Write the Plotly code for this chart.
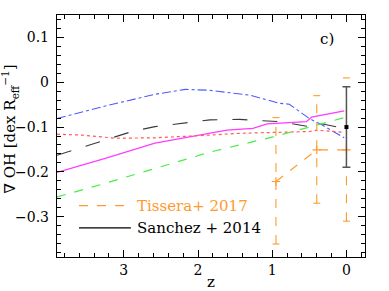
import plotly.graph_objects as go

# ---- data ----
blue_z = [3.9, 3.25, 2.58, 2.17, 1.84, 1.30, 0.90, 0.77, 0.50, 0.32, 0.03]
blue_v = [-0.081, -0.053, -0.027, -0.016, -0.018, -0.029, -0.047, -0.049, -0.081, -0.096, -0.124]

black_z = [3.9, 3.25, 2.89, 2.58, 1.84, 1.44, 0.90, 0.50, 0.36, 0.03]
black_v = [-0.163, -0.129, -0.110, -0.099, -0.084, -0.083, -0.088, -0.099, -0.092, -0.103]

mag_z = [3.9, 3.25, 2.58, 1.84, 1.61, 1.26, 1.07, 0.54, 0.47, 0.03]
mag_v = [-0.201, -0.170, -0.136, -0.114, -0.107, -0.103, -0.093, -0.088, -0.078, -0.064]

red_z = [3.9, 3.56, 3.11, 2.58, 1.84, 1.44, 0.50, 0.40, 0.03]
red_v = [-0.116, -0.118, -0.125, -0.124, -0.118, -0.114, -0.110, -0.107, -0.112]

green_z = [3.9, 3.28, 1.84, 0.99, 0.03]
green_v = [-0.256, -0.227, -0.156, -0.122, -0.079]

tis_z = [0.95, 0.40, 0.0]
tis_v = [-0.2215, -0.151, -0.151]
tis_hi = [-0.079, -0.030, 0.0096]
tis_lo = [-0.361, -0.270, -0.310]

san_z = [0.0]
san_v = [-0.100]
san_err = [0.090]

xticks = [3, 2, 1, 0]
yticks = [0.1, 0, -0.1, -0.2, -0.3]
yticklabels = ["0.1", "0", "\u22120.1", "\u22120.2", "\u22120.3"]

legend_names = ["Tissera+ 2017", "Sanchez + 2014"]

ORANGE = "#ff9a2e"
FONT = "DejaVu Serif"

fig = go.Figure()

fig.add_trace(go.Scatter(x=blue_z, y=blue_v, mode="lines", showlegend=False, hoverinfo="skip",
                         line=dict(color="#4a5cff", width=1.1, dash="dashdot")))
fig.add_trace(go.Scatter(x=black_z, y=black_v, mode="lines", showlegend=False, hoverinfo="skip",
                         line=dict(color="#3a3a3a", width=1.1, dash="longdash")))
fig.add_trace(go.Scatter(x=mag_z, y=mag_v, mode="lines", showlegend=False, hoverinfo="skip",
                         line=dict(color="#ff3cff", width=1.2)))
fig.add_trace(go.Scatter(x=red_z, y=red_v, mode="lines", showlegend=False, hoverinfo="skip",
                         line=dict(color="#ff5a5a", width=1.2, dash="dot")))
fig.add_trace(go.Scatter(x=green_z, y=green_v, mode="lines", showlegend=False, hoverinfo="skip",
                         line=dict(color="#44ee44", width=1.2, dash="dash")))

# Tissera error bars (dashed vertical lines)
ex, ey = [], []
for z, lo, hi in zip(tis_z, tis_lo, tis_hi):
    ex += [z, z, None]
    ey += [lo, hi, None]
fig.add_trace(go.Scatter(x=ex, y=ey, mode="lines", showlegend=False, hoverinfo="skip",
                         line=dict(color=ORANGE, width=1.1, dash="dash")))
fig.add_trace(go.Scatter(x=tis_z + tis_z, y=tis_lo + tis_hi, mode="markers", showlegend=False,
                         hoverinfo="skip",
                         marker=dict(symbol="line-ew", size=5, line=dict(color=ORANGE, width=1.1))))
fig.add_trace(go.Scatter(x=tis_z, y=tis_v, mode="lines+markers", showlegend=False, hoverinfo="skip",
                         line=dict(color=ORANGE, width=1.1, dash="dash"),
                         marker=dict(symbol="cross-thin-open", size=6, color=ORANGE,
                                     line=dict(color=ORANGE, width=1.2))))

# Sanchez point
fig.add_trace(go.Scatter(x=san_z, y=san_v, mode="markers", showlegend=False, hoverinfo="skip",
                         marker=dict(symbol="square", size=4, color="black"),
                         error_y=dict(type="data", array=san_err, color="#555555",
                                      thickness=1.5, width=4)))

axis_common = dict(showline=True, mirror="ticks", linecolor="black", linewidth=1.2,
                   ticks="inside", ticklen=7, tickcolor="black", tickwidth=1,
                   showgrid=False, zeroline=False, automargin=False,
                   tickfont=dict(family=FONT, size=14, color="black"))

fig.update_xaxes(range=[3.9, -0.25], tickvals=xticks, ticktext=[str(t) for t in xticks],
                 minor=dict(dtick=0.2, tick0=0, ticks="inside", ticklen=4, tickcolor="black", showgrid=False),
                 **axis_common)
fig.update_yaxes(range=[-0.39, 0.15], tickvals=yticks, ticktext=yticklabels,
                 minor=dict(dtick=0.02, tick0=0, ticks="inside", ticklen=4, tickcolor="black", showgrid=False),
                 ticklabelstandoff=4,
                 **axis_common)

# axis titles
fig.add_annotation(x=0.5, y=-0.105, xref="paper", yref="paper", text="z", showarrow=False,
                   xanchor="center", yanchor="middle",
                   font=dict(family=FONT, size=15, color="black"))
fig.add_annotation(x=-0.153, y=0.53, xref="paper", yref="paper", textangle=-90,
                   text="\u2207 OH [dex R<sub>eff</sub><sup>\u22121</sup>]", showarrow=False,
                   xanchor="center", yanchor="middle",
                   font=dict(family=FONT, size=15, color="black"))

fig.add_annotation(x=0.875, y=0.9, xref="paper", yref="paper", text="c)", showarrow=False,
                   xanchor="center", yanchor="middle",
                   font=dict(family=FONT, size=15, color="black"))

# manual legend
leg_y = [0.212, 0.12]
leg_col = [ORANGE, "black"]
leg_dash = ["dash", "solid"]
for name, yy, col, dsh in zip(legend_names, leg_y, leg_col, leg_dash):
    fig.add_shape(type="line", xref="paper", yref="paper", x0=0.0714, x1=0.24, y0=yy, y1=yy,
                  line=dict(color=col, width=1.2, dash=dsh))
    fig.add_annotation(x=0.253, y=yy, xref="paper", yref="paper", text=name, showarrow=False,
                       xanchor="left", yanchor="middle",
                       font=dict(family=FONT, size=15, color=col))

fig.update_layout(width=389, height=291, margin=dict(l=57, r=24, t=15, b=34),
                  paper_bgcolor="white", plot_bgcolor="white", showlegend=False,
                  hovermode=False)

fig.write_html("out.html", config={"displayModeBar": False, "staticPlot": True},
               post_script="document.body.style.margin='0';")
